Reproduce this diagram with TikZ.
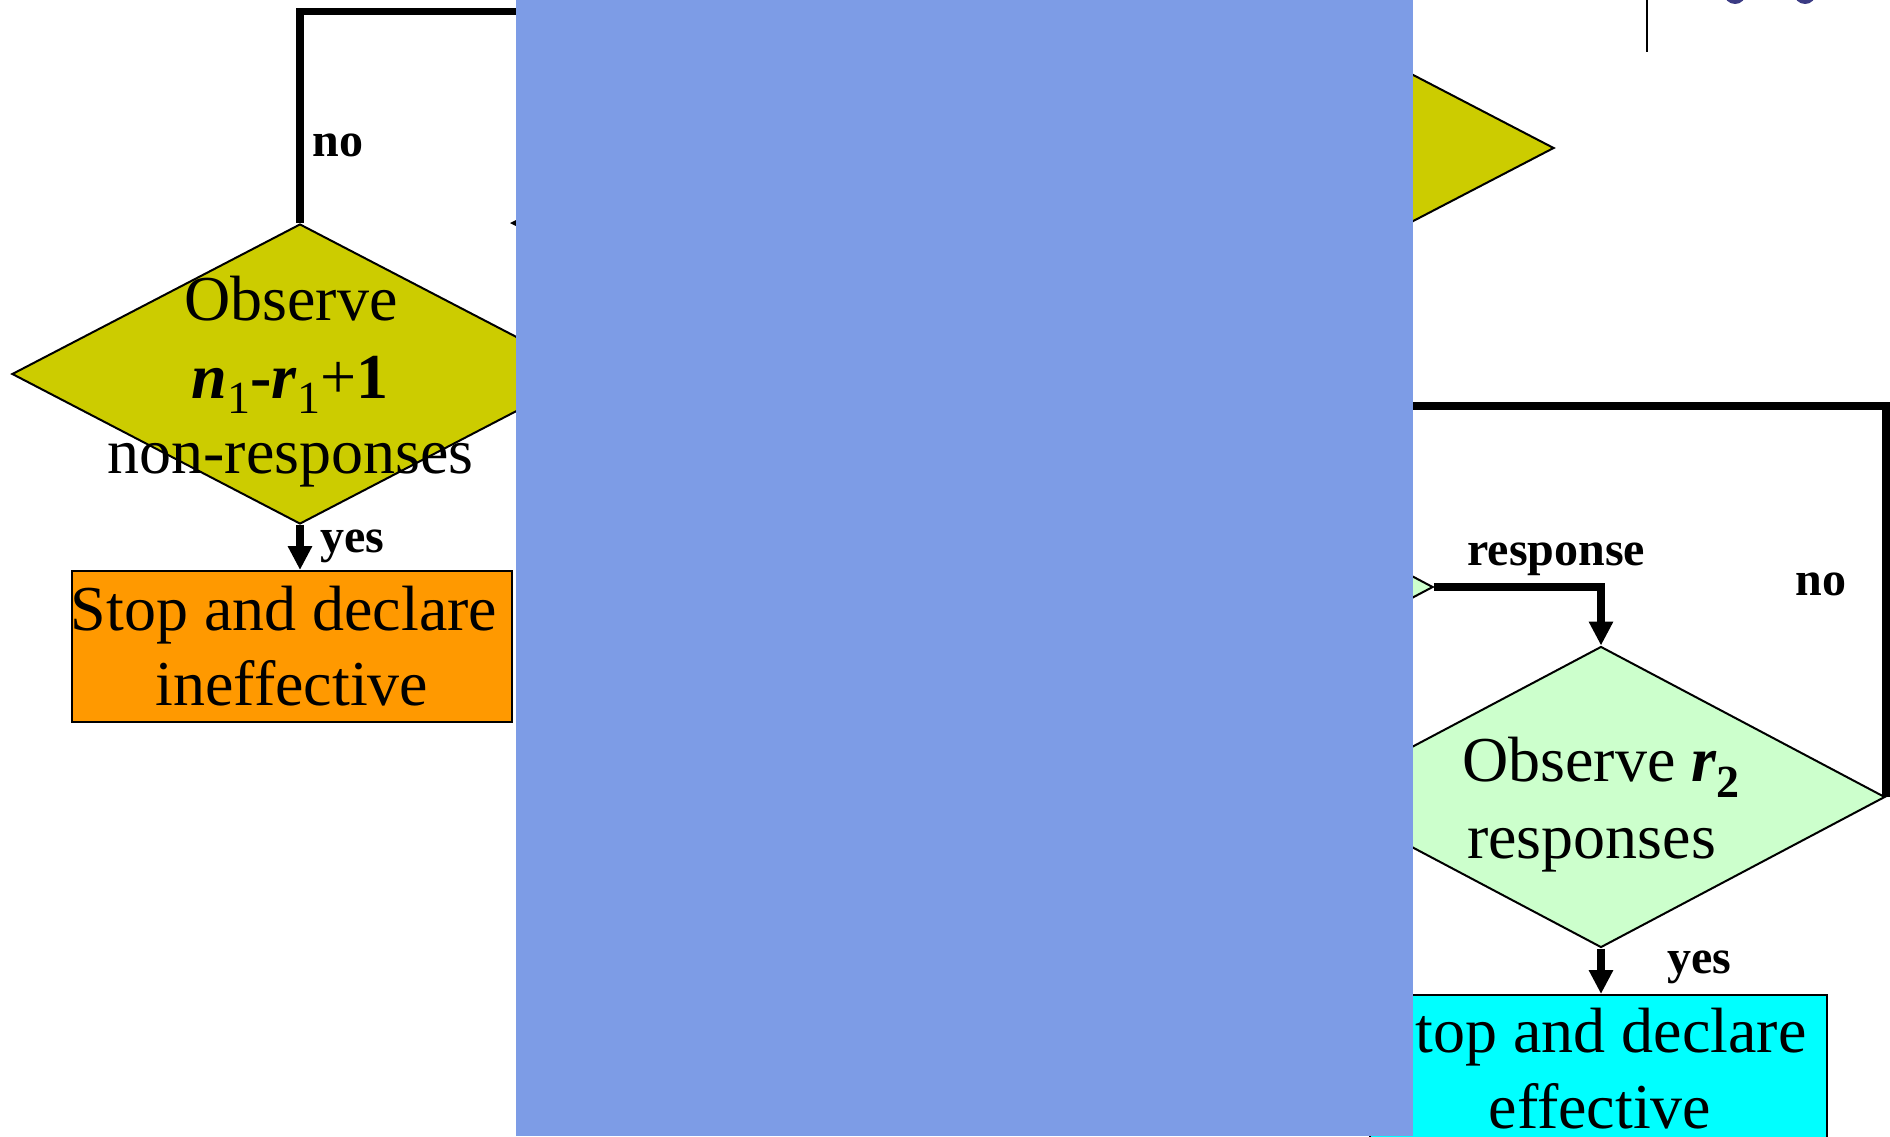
\documentclass[tikz,border=0pt]{standalone}
\usepackage{fontspec}
\setmainfont{Liberation Serif}
\usetikzlibrary{shapes.geometric,arrows.meta}
\definecolor{olivey}{HTML}{CCCC00}
\definecolor{mintg}{HTML}{CCFFCC}
\definecolor{orangeb}{HTML}{FF9900}
\definecolor{cyanb}{HTML}{00FFFF}
\definecolor{bluecover}{RGB}{125,156,230}
\definecolor{dotblue}{RGB}{59,59,132}
\newcommand\mysub[1]{\raisebox{-7.5pt}{\fontsize{23}{23}\selectfont #1}}
\begin{document}
\begin{tikzpicture}[x=0.5pt,y=-0.5pt,
  flow/.style={line width=3.75pt},
  arr/.style={-{Triangle[length=12pt,width=11.5pt]}},
  diam/.style={shape=diamond,draw,line width=1pt,inner sep=0pt},
  boxn/.style={shape=rectangle,draw,line width=1pt,inner sep=0pt},
  body/.style={font=\fontsize{32}{37}\selectfont,inner sep=0pt,anchor=base},
  lbl/.style={font=\fontsize{24}{24}\selectfont\bfseries,inner sep=0pt,anchor=base west}]
\useasboundingbox (0,0) rectangle (1890,1136);
% shapes
\node[diam,fill=olivey,minimum width=288pt,minimum height=150pt] (d1) at (300,374) {};
\node[diam,fill=olivey,minimum width=288pt,minimum height=150pt] (d0) at (1266,148) {};
\node[diam,fill=mintg,minimum width=284pt,minimum height=150.5pt] (d3) at (1149,587) {};
\node[diam,fill=mintg,minimum width=284pt,minimum height=150.5pt] (d2) at (1601,797) {};
\node[boxn,fill=orangeb,minimum width=220pt,minimum height=75.5pt] (b1) at (292,646.5) {};
\node[boxn,fill=cyanb,minimum width=228.5pt,minimum height=92.5pt] (b2) at (1598.5,1087.5) {};
% connectors
\coordinate (c1) at (540,11.5);
\draw[flow] (d1.north) |- (c1);
\draw[flow,arr] (d1.south) -- (d1.south |- b1.north);
\coordinate (c2) at (1400,406);
\draw[flow] (c2) -| (d2.east);
\draw[flow,arr] (d3.east) -| (d2.north);
\draw[flow,arr] (d2.south) -- (d2.south |- b2.north);
\coordinate (a0) at (510,223);
\fill (a0) -- (520,218) -- (520,228) -- cycle;
% cover
\fill[bluecover] (516,0) rectangle (1413,1136);
% top right
\coordinate (v1) at (1647,0);
\coordinate (v2) at (1647,52);
\draw[line width=1pt] (v1) -- (v2);
\fill[dotblue] (1735,-7) circle (11);
\fill[dotblue] (1805,-7) circle (11);
% texts
\node[body] (t1a) at (291,320) {Observe};
\node[body] (t1b) at (290,398) {\textbf{\textit{n}}\mysub{1}\textbf{-\textit{r}}\mysub{1}+\textbf{1}};
\node[body] (t1c) at (290.5,473) {non-responses};
\node[body] (t2a) at (284,630) {Stop and declare};
\node[body] (t2b) at (292,705) {ineffective};
\node[body] (t3a) at (1601,781) {Observe \textbf{\textit{r}}\raisebox{-8pt}{\fontsize{23}{23}\selectfont\bfseries 2}};
\node[body] (t3b) at (1591.5,858) {responses};
\node[body] (t4a) at (1611,1052) {top and declare};
\node[body] (t4b) at (1600,1128) {effective};
% labels
\node[lbl] (l1) at (312,156) {no};
\node[lbl] (l2) at (320,552) {yes};
\node[lbl] (l3) at (1467,565) {response};
\node[lbl] (l4) at (1795,595) {no};
\node[lbl] (l5) at (1667,973) {yes};
\end{tikzpicture}
\end{document}
